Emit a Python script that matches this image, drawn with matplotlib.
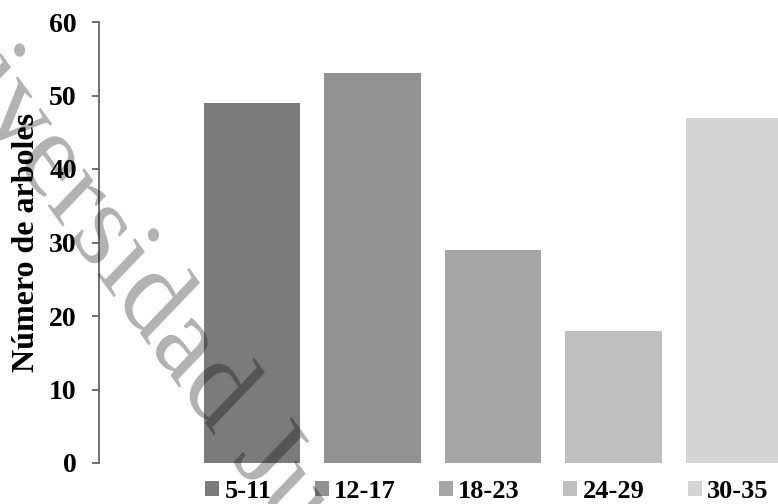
import matplotlib
matplotlib.use("Agg")
import matplotlib.pyplot as plt
from matplotlib.patches import Patch, PathPatch
from matplotlib.textpath import TextPath, text_to_path
from matplotlib.font_manager import FontProperties
from matplotlib.transforms import Affine2D

categorias = ["5-11", "12-17", "18-23", "24-29", "30-35"]
arboles = [49, 53, 29, 18, 47]
colores = ["#7b7b7b", "#929292", "#a5a5a5", "#bfbfbf", "#d4d4d4"]
yticks = [0, 10, 20, 30, 40, 50, 60]

plt.rcParams['font.family'] = ['Liberation Serif', 'DejaVu Serif']

fig = plt.figure(figsize=(7.78, 5.04), dpi=100)
ax = fig.add_axes([99 / 778, 41 / 504, 679 / 778, 441 / 504])

x = list(range(len(categorias)))
ax.bar(x, arboles, width=0.8, color=colores, zorder=2)

ax.set_xlim(-1.27, 4.365)
ax.set_ylim(0, 60)
ax.set_yticks(yticks)
ax.set_xticks([])
for s in ['top', 'right', 'bottom']:
    ax.spines[s].set_visible(False)
ax.spines['left'].set_color('#595959')
ax.spines['left'].set_linewidth(1.2)
ax.tick_params(axis='y', direction='out', length=5, width=1.2, color='#595959',
               pad=11, labelsize=20)
for lab in ax.get_yticklabels():
    lab.set_fontweight('bold')

ax.set_ylabel("Número de arboles", fontsize=23, fontweight='bold')
ax.yaxis.set_label_coords((41 - 99) / 679, 0.5)

handles = [Patch(facecolor=c, edgecolor='none') for c in colores]
leg = fig.legend(handles, categorias, loc='lower left', bbox_to_anchor=(204 / 778, 0.0),
                 ncol=5, frameon=False, borderpad=0.05, borderaxespad=0,
                 handlelength=0.53, handleheight=0.53, handletextpad=0.19,
                 columnspacing=1.65, prop={'family': 'Liberation Serif', 'weight': 'bold', 'size': 19})

# marca de agua (texto girado y algo estirado en vertical)
fp = FontProperties(family='Liberation Serif')
tam = 105
marca = "Universidad Juárez"
tp = TextPath((0, 0), marca, size=tam, prop=fp)
w_pre = text_to_path.get_text_width_height_descent("Univers", FontProperties(family='Liberation Serif', size=tam), ismath=False)[0]
punto_x = w_pre + 0.13 * tam
punto_y = 0.63 * tam
tr = (Affine2D().translate(-punto_x, -punto_y).rotate_deg(-49).scale(1, 1.2)
      .translate(155, 504 - 233))
wm = PathPatch(tp, facecolor='black', edgecolor='none', alpha=0.3, zorder=10)
wm.set_transform(tr)
fig.add_artist(wm)

fig.savefig("out.png", dpi=100)
